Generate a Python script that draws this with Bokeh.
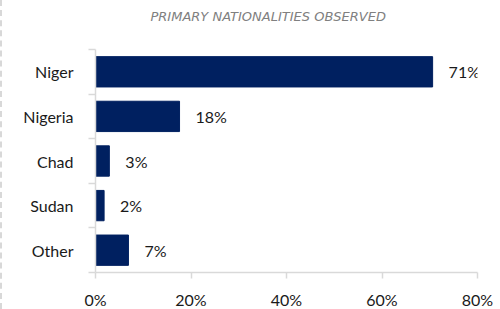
from bokeh.plotting import figure
from bokeh.models import ColumnDataSource, FixedTicker, NumeralTickFormatter, Title, Div
from bokeh.layouts import row
from bokeh.embed import file_html
from bokeh.resources import INLINE
from bokeh.core.properties import value

# ---- data ----
categories = ["Niger", "Nigeria", "Chad", "Sudan", "Other"]
shares = [0.706, 0.176, 0.029, 0.018, 0.069]
x_ticks = [0.0, 0.2, 0.4, 0.6, 0.8]
title_text = "PRIMARY NATIONALITIES OBSERVED"

FONT = "Lato"
BAR = "#002060"
AXIS = "#d9d9d9"
TXT = "#1a1a1a"

n = len(categories)
ypos = [n - i for i in range(n)]
labels = [f"{round(v * 100)}%" for v in shares]
src = ColumnDataSource(dict(y=ypos, v=shares, lab=labels, cat=categories))

# narrow strip holding the dashed border at the far left
strip = Div(text="", width=3, height=309, margin=0,
            styles={"border-left": "2px dashed #d8d8d8", "box-sizing": "border-box"})

p = figure(width=493, height=309, output_backend="svg", toolbar_location=None,
           x_range=(0, 0.8), y_range=(0.5, n + 0.5),
           min_border_left=92, min_border_right=19, min_border_top=49, min_border_bottom=37,
           frame_width=382, frame_height=223)
p.outline_line_color = None
p.xgrid.grid_line_color = None
p.ygrid.grid_line_color = None
p.background_fill_color = "white"
p.border_fill_color = "white"

# spacer panel between frame and title, then the title itself
p.add_layout(Title(text=" ", text_font_size="1px", standoff=23), "above")
p.add_layout(Title(text=title_text, align="left", offset=55, text_font="DejaVu Sans",
                   text_font_style="italic", text_font_size="13px", text_color="#808080",
                   standoff=0, vertical_align="bottom"), "above")

p.hbar(y="y", right="v", left=0, height=0.68, source=src, color=BAR)
p.text(x="v", y="y", text="lab", source=src, x_offset=16, text_align="left",
       text_baseline="middle", text_font=value(FONT), text_font_size="16px",
       text_color=TXT)

# x axis
xa = p.xaxis[0]
xa.ticker = FixedTicker(ticks=x_ticks)
xa.formatter = NumeralTickFormatter(format="0%")
xa.axis_line_color = AXIS
xa.axis_line_width = 1.5
xa.major_tick_line_color = AXIS
xa.major_tick_line_width = 1.5
xa.major_tick_in = 0
xa.major_tick_out = 6
xa.minor_tick_line_color = None
xa.major_label_standoff = 11
xa.major_label_text_font = FONT
xa.major_label_text_font_size = "16px"
xa.major_label_text_color = TXT

# y axis: labels at category centres, ticks at boundaries
ya = p.yaxis[0]
ya.ticker = FixedTicker(ticks=ypos, minor_ticks=[i + 0.5 for i in range(n + 1)])
ya.major_label_overrides = {y: c for y, c in zip(ypos, categories)}
ya.axis_line_color = AXIS
ya.axis_line_width = 1.5
ya.major_tick_line_color = None
ya.major_tick_in = 0
ya.major_tick_out = 0
ya.minor_tick_line_color = AXIS
ya.minor_tick_line_width = 1.5
ya.minor_tick_in = 0
ya.minor_tick_out = 7
ya.major_label_standoff = 15
ya.major_label_text_font = FONT
ya.major_label_text_font_size = "16px"
ya.major_label_text_color = TXT

layout = row(strip, p, spacing=0)
open("out.html", "w").write(file_html(layout, INLINE))
